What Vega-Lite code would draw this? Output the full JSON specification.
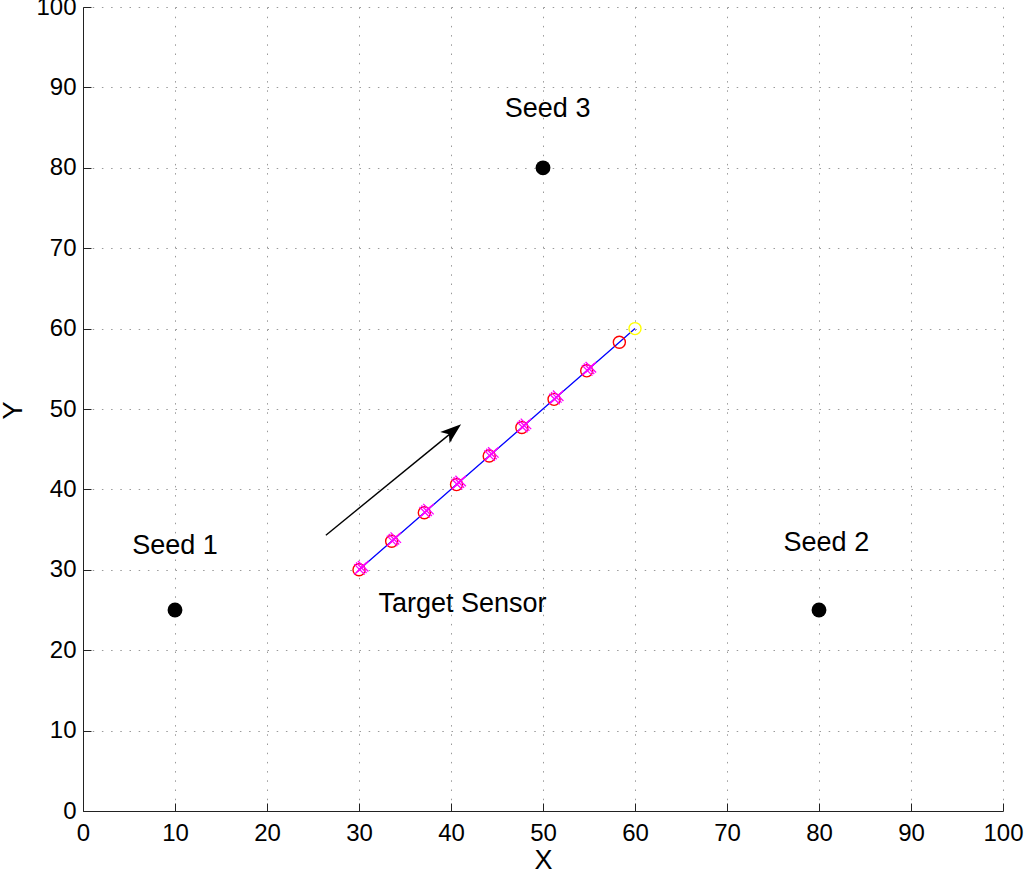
{
  "$schema": "https://vega.github.io/schema/vega-lite/v6.json",
  "width": 920,
  "height": 804,
  "autosize": "none",
  "padding": {"left": 83, "top": 7, "right": 21, "bottom": 59},
  "background": "white",
  "config": {
    "view": {"stroke": null},
    "font": "Liberation Sans",
    "axis": {
      "labelFont": "Liberation Sans",
      "labelFontSize": 24,
      "labelColor": "black",
      "labelFlush": false,
      "labelOverlap": false,
      "titleFont": "Liberation Sans",
      "titleFontSize": 27,
      "titleFontWeight": "normal",
      "titleColor": "black",
      "domainColor": "#222222",
      "domainWidth": 1,
      "tickColor": "#222222",
      "tickSize": -8,
      "gridColor": "#9a9a9a",
      "gridDash": [1.5, 7.7],
      "gridWidth": 1,
      "gridOpacity": 1
    }
  },
  "datasets": {
    "track": [
      {"x": 30.0, "y": 30.0},
      {"x": 33.55, "y": 33.55},
      {"x": 37.1, "y": 37.1},
      {"x": 40.6, "y": 40.6},
      {"x": 44.15, "y": 44.15},
      {"x": 47.7, "y": 47.7},
      {"x": 51.2, "y": 51.2},
      {"x": 54.75, "y": 54.75},
      {"x": 58.3, "y": 58.3},
      {"x": 60.0, "y": 60.0}
    ],
    "circles": [
      {"x": 30.0, "y": 30.0},
      {"x": 33.55, "y": 33.55},
      {"x": 37.1, "y": 37.1},
      {"x": 40.6, "y": 40.6},
      {"x": 44.15, "y": 44.15},
      {"x": 47.7, "y": 47.7},
      {"x": 51.2, "y": 51.2},
      {"x": 54.75, "y": 54.75},
      {"x": 58.3, "y": 58.3}
    ],
    "crosses": [
      {"x": 30.05, "y": 30.05}, {"x": 30.25, "y": 30.25}, {"x": 30.45, "y": 30.45},
      {"x": 33.6, "y": 33.6}, {"x": 33.8, "y": 33.8}, {"x": 34.0, "y": 34.0},
      {"x": 37.15, "y": 37.15}, {"x": 37.35, "y": 37.35}, {"x": 37.55, "y": 37.55},
      {"x": 40.65, "y": 40.65}, {"x": 40.85, "y": 40.85}, {"x": 41.05, "y": 41.05},
      {"x": 44.2, "y": 44.2}, {"x": 44.4, "y": 44.4}, {"x": 44.6, "y": 44.6},
      {"x": 47.75, "y": 47.75}, {"x": 47.95, "y": 47.95}, {"x": 48.15, "y": 48.15},
      {"x": 51.25, "y": 51.25}, {"x": 51.45, "y": 51.45}, {"x": 51.65, "y": 51.65},
      {"x": 54.8, "y": 54.8}, {"x": 55.0, "y": 55.0}, {"x": 55.2, "y": 55.2}
    ],
    "target": [{"x": 60.0, "y": 60.0}],
    "seeds": [
      {"x": 10, "y": 25, "label": "Seed 1", "lx": 10.0, "ly": 32.0},
      {"x": 80, "y": 25, "label": "Seed 2", "lx": 80.8, "ly": 32.3},
      {"x": 50, "y": 80, "label": "Seed 3", "lx": 50.5, "ly": 86.3}
    ],
    "notes": [{"x": 41.25, "y": 24.7, "label": "Target Sensor"}],
    "arrow": [{"x": 26.4, "y": 34.3, "x2": 40.0, "y2": 47.0, "tx": 41.1, "ty": 48.1}]
  },
  "layer": [
    {
      "data": {"name": "arrow"},
      "mark": {"type": "rule", "color": "black", "strokeWidth": 1.4},
      "encoding": {
        "x": {"field": "x", "type": "quantitative", "scale": {"domain": [0, 100], "nice": false},
          "axis": {"values": [0,10,20,30,40,50,60,70,80,90,100], "title": "X", "grid": true, "labelPadding": 18, "titleY": 57, "titleBaseline": "alphabetic"}},
        "y": {"field": "y", "type": "quantitative", "scale": {"domain": [0, 100], "nice": false},
          "axis": {"values": [0,10,20,30,40,50,60,70,80,90,100], "title": "Y", "grid": true, "labelPadding": 15, "titleX": -62, "titleY": 403, "titleBaseline": "alphabetic", "titleAngle": -90}},
        "x2": {"field": "x2"},
        "y2": {"field": "y2"}
      }
    },
    {
      "data": {"name": "arrow"},
      "mark": {"type": "point", "shape": "M0,0L-0.7,2L0,1.5L0.7,2Z", "filled": true, "color": "black", "opacity": 1, "size": 441, "angle": 50.6},
      "encoding": {
        "x": {"field": "tx", "type": "quantitative"},
        "y": {"field": "ty", "type": "quantitative"}
      }
    },
    {
      "data": {"name": "track"},
      "mark": {"type": "line", "color": "#0000ff", "strokeWidth": 1.3},
      "encoding": {
        "x": {"field": "x", "type": "quantitative"},
        "y": {"field": "y", "type": "quantitative"},
        "order": {"field": "x", "type": "quantitative"}
      }
    },
    {
      "data": {"name": "circles"},
      "mark": {"type": "point", "shape": "circle", "filled": false, "color": "#ff0000", "strokeWidth": 1.4, "opacity": 1, "size": 145},
      "encoding": {
        "x": {"field": "x", "type": "quantitative"},
        "y": {"field": "y", "type": "quantitative"}
      }
    },
    {
      "data": {"name": "crosses"},
      "mark": {"type": "point", "shape": "M-1,-1L1,1M-1,1L1,-1", "filled": false, "color": "#ff00ff", "strokeWidth": 1.3, "opacity": 1, "size": 110},
      "encoding": {
        "x": {"field": "x", "type": "quantitative"},
        "y": {"field": "y", "type": "quantitative"}
      }
    },
    {
      "data": {"name": "target"},
      "mark": {"type": "point", "shape": "circle", "filled": false, "color": "#ffff00", "strokeWidth": 1.4, "opacity": 1, "size": 145},
      "encoding": {
        "x": {"field": "x", "type": "quantitative"},
        "y": {"field": "y", "type": "quantitative"}
      }
    },
    {
      "data": {"name": "seeds"},
      "mark": {"type": "point", "shape": "circle", "filled": true, "color": "black", "opacity": 1, "size": 220},
      "encoding": {
        "x": {"field": "x", "type": "quantitative"},
        "y": {"field": "y", "type": "quantitative"}
      }
    },
    {
      "data": {"name": "seeds"},
      "mark": {"type": "text", "font": "Liberation Sans", "fontSize": 27, "color": "black", "align": "center", "baseline": "alphabetic"},
      "encoding": {
        "x": {"field": "lx", "type": "quantitative"},
        "y": {"field": "ly", "type": "quantitative"},
        "text": {"field": "label"}
      }
    },
    {
      "data": {"name": "notes"},
      "mark": {"type": "text", "font": "Liberation Sans", "fontSize": 27, "color": "black", "align": "center", "baseline": "alphabetic"},
      "encoding": {
        "x": {"field": "x", "type": "quantitative"},
        "y": {"field": "y", "type": "quantitative"},
        "text": {"field": "label"}
      }
    }
  ]
}
